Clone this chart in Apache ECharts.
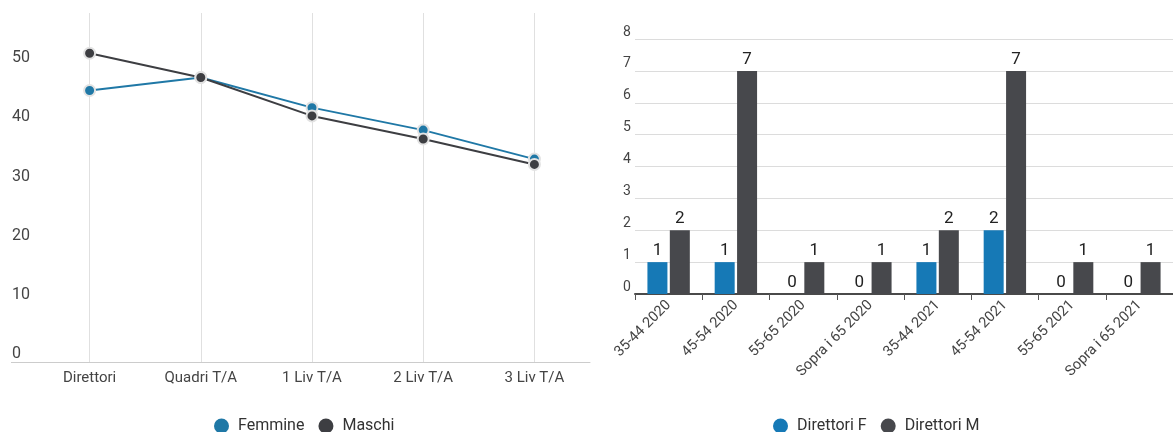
<!DOCTYPE html>
<html>
<head>
<meta charset="utf-8">
<script src="https://cdn.jsdelivr.net/npm/echarts@6/dist/echarts.min.js"></script>
<style>
  html, body { margin: 0; padding: 0; background: #fff; }
  #chart { width: 1173px; height: 432px; }
</style>
</head>
<body>
<div id="chart"></div>
<script>
// grafico a linee
const lineCats = ['Direttori', 'Quadri T/A', '1 Liv T/A', '2 Liv T/A', '3 Liv T/A'];
const femmine = [45.9, 48.1, 43.0, 39.2, 34.3];
const maschi = [52.2, 48.1, 41.6, 37.7, 33.4];

// grafico a barre
const barCats = ['35-44 2020', '45-54 2020', '55-65 2020', 'Sopra i 65 2020',
                 '35-44 2021', '45-54 2021', '55-65 2021', 'Sopra i 65 2021'];
const direttoriF = [1, 1, 0, 0, 1, 2, 0, 0];
const direttoriM = [2, 7, 1, 1, 2, 7, 1, 1];

const blue = '#1679b6';
const dark = '#47484c';
const font = 'Roboto';

let chart = echarts.init(document.getElementById('chart'));

let legendStyle = {
    top: 413,
    icon: 'circle', itemWidth: 15, itemHeight: 15, itemGap: 14,
    itemStyle: { borderWidth: 0 },
    textStyle: { fontSize: 16, color: '#333', padding: [0, 0, 0, 4] }
};

let option = {
    animation: false,
    textStyle: { fontFamily: font },
    legend: [
        Object.assign({ data: ['Femmine', 'Maschi'], left: 209 }, legendStyle),
        Object.assign({ data: ['Direttori F', 'Direttori M'], left: 768 }, legendStyle)
    ],
    grid: [
        { left: 34, width: 556, top: 13, bottom: 70 },
        { left: 635, width: 547, top: 39, bottom: 138 }
    ],
    xAxis: [
        {
            gridIndex: 0,
            type: 'category',
            data: lineCats,
            axisLine: { lineStyle: { color: '#ccc' } },
            axisTick: { show: false },
            axisLabel: { color: '#444', fontSize: 15, margin: 9 },
            splitLine: { show: true, alignWithLabel: true, lineStyle: { color: '#e0e0e0' } }
        },
        {
            gridIndex: 1,
            type: 'category',
            data: barCats,
            axisLine: { lineStyle: { color: '#4a4a4a', width: 2 } },
            axisTick: { show: true, length: 6, lineStyle: { color: '#555' } },
            axisLabel: { color: '#444', fontSize: 14.5, rotate: 45, margin: 9, interval: 0 }
        }
    ],
    yAxis: [
        {
            gridIndex: 0,
            type: 'value',
            min: 0, max: 59, interval: 10,
            axisLine: { show: false },
            axisTick: { show: false },
            splitLine: { show: false },
            axisLabel: {
                color: '#444', fontSize: 16, align: 'left', verticalAlign: 'bottom',
                margin: 22, showMaxLabel: false
            }
        },
        {
            gridIndex: 1,
            type: 'value',
            min: 0, max: 8, interval: 1,
            axisLine: { show: false },
            axisTick: { show: false },
            splitLine: { lineStyle: { color: '#dcdcdc' } },
            axisLabel: {
                color: '#444', fontSize: 14, align: 'left', verticalAlign: 'bottom',
                margin: 12
            }
        }
    ],
    graphic: [
        // prolungamento della linea dell'asse x a sinistra
        { type: 'line', shape: { x1: 11, y1: 362.5, x2: 34, y2: 362.5 }, style: { stroke: '#ccc', lineWidth: 1 } }
    ],
    series: [
        {
            name: 'Femmine', type: 'line',
            xAxisIndex: 0, yAxisIndex: 0,
            data: femmine,
            color: blue,
            symbol: 'circle', symbolSize: 11,
            lineStyle: { width: 2, color: '#1f78a6' },
            itemStyle: { color: '#1f78a6', borderColor: '#e2e2e2', borderWidth: 2 }
        },
        {
            name: 'Maschi', type: 'line',
            xAxisIndex: 0, yAxisIndex: 0,
            data: maschi,
            color: dark,
            symbol: 'circle', symbolSize: 11,
            lineStyle: { width: 2, color: '#3d3e42' },
            itemStyle: { color: '#3d3e42', borderColor: '#e2e2e2', borderWidth: 2 }
        },
        {
            name: 'Direttori F', type: 'bar',
            xAxisIndex: 1, yAxisIndex: 1,
            data: direttoriF,
            barWidth: 20, barGap: '12%',
            itemStyle: { color: blue },
            label: { show: true, position: 'top', distance: 3, fontSize: 17, color: '#222' }
        },
        {
            name: 'Direttori M', type: 'bar',
            xAxisIndex: 1, yAxisIndex: 1,
            data: direttoriM,
            barWidth: 20,
            itemStyle: { color: dark },
            label: { show: true, position: 'top', distance: 3, fontSize: 17, color: '#222' }
        }
    ]
};

chart.setOption(option);
</script>
</body>
</html>
